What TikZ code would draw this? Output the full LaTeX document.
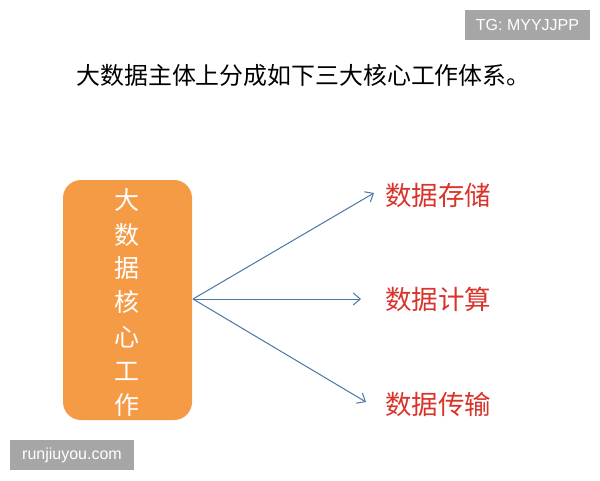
\documentclass[tikz,border=0pt]{standalone}
\usepackage{fontspec}
\setmainfont{Noto Sans CJK SC}
\newfontfamily\latinsans{Liberation Sans}
\usetikzlibrary{arrows.meta}
\definecolor{boxorange}{HTML}{F59A45}
\definecolor{arrowblue}{HTML}{4A76A8}
\definecolor{labelred}{HTML}{D9342B}
\definecolor{markgray}{HTML}{A6A6A6}
\tikzset{
  core/.style={fill=boxorange, rounded corners=18pt, minimum width=129pt, minimum height=240pt, inner sep=0pt},
  corechar/.style={text=white, font=\fontsize{25}{25}\selectfont, inner sep=0pt},
  conn/.style={draw=arrowblue, line width=1pt, -{Straight Barb[length=7pt, width=12pt, line width=1pt]}},
  lbl/.style={text=labelred, font=\fontsize{26.5}{27}\selectfont, anchor=west, inner sep=0pt},
  title/.style={font=\fontsize{23.9}{24}\selectfont, inner sep=0pt},
  wmark/.style={fill=markgray, text=white, font=\latinsans\fontsize{16}{16}\selectfont, inner sep=0pt, minimum height=30pt}
}
\begin{document}
\begin{tikzpicture}[x=1pt, y=-1pt]
\useasboundingbox (0,0) rectangle (600,480);
\fill[white] (0,0) rectangle (600,480);
\node[wmark, minimum width=125pt] (tg) at (527.5,25) {TG: MYYJJPP};
\node[wmark, minimum width=124pt] (rj) at (72,455) {runjiuyou.com};
\node[title] (t) at (303.5,75) {大数据主体上分成如下三大核心工作体系。};
\node[core] (box) at (127.5,300) {};
\node[corechar] (c1) at (127,200) {大};
\node[corechar] (c2) at (127,235) {数};
\node[corechar] (c3) at (127,268) {据};
\node[corechar] (c4) at (127,302) {核};
\node[corechar] (c5) at (127,337) {心};
\node[corechar] (c6) at (127,371) {工};
\node[corechar] (c7) at (127,405) {作};
\coordinate (o) at (193,299);
\node[lbl] (l1) at (385,195) {数据存储};
\node[lbl] (l2) at (385,299) {数据计算};
\node[lbl] (l3) at (385,404) {数据传输};
\coordinate (e1) at (374,193);
\coordinate (e2) at (361,299);
\coordinate (e3) at (366,402);
\draw[conn] (o) -- (e1);
\draw[conn] (o) -- (e2);
\draw[conn] (o) -- (e3);
\end{tikzpicture}
\end{document}
